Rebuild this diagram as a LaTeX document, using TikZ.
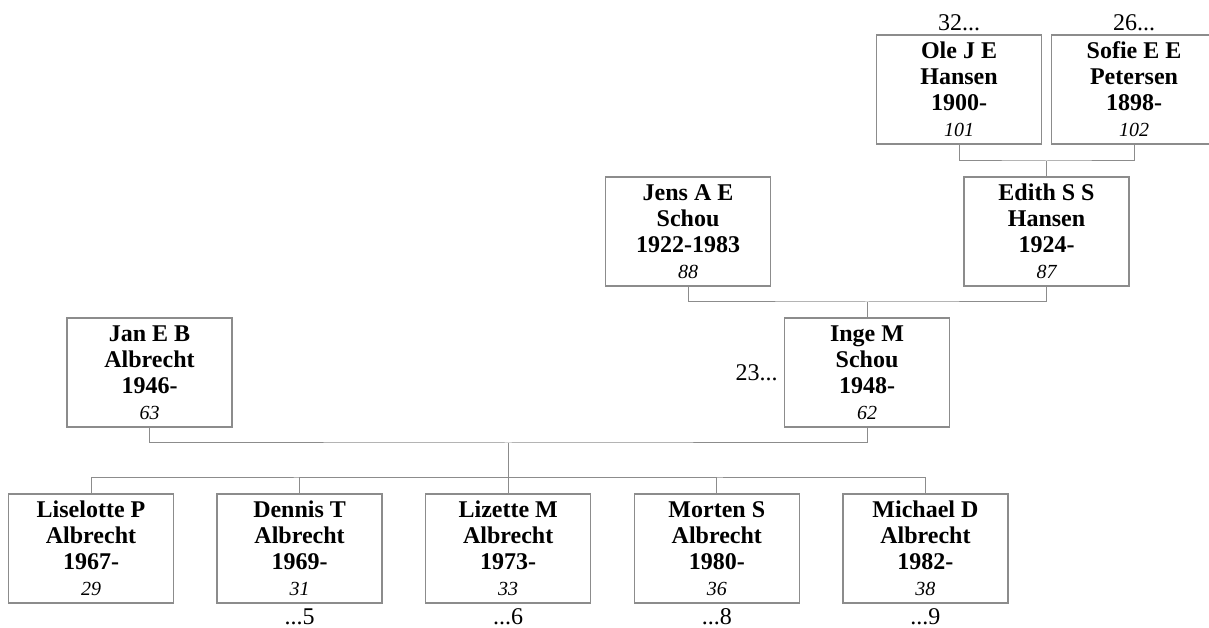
\documentclass[tikz,border=0pt]{standalone}
\usepackage{fontspec}
\setmainfont{Liberation Serif}
\usetikzlibrary{positioning}
\definecolor{linegray}{RGB}{140,140,140}
\newcommand{\refno}[1]{{\fontsize{20}{26}\selectfont\mdseries\itshape #1}}

\begin{document}
\begin{tikzpicture}[x=1pt,y=1pt,
        person/.style={draw=linegray,line width=1.3pt,fill=white,minimum width=165pt,minimum height=109pt,
                       inner sep=0pt,align=center,font=\fontsize{24}{26}\selectfont\bfseries},
        link/.style={draw=linegray,line width=1pt},
        more/.style={inner sep=0pt,font=\fontsize{24}{26}\selectfont}]

            \useasboundingbox (0,0) rectangle (1209,628);
            \clip (0,0) rectangle (1209,628);
            %\draw [help lines,step=50] (0,0) grid (1209,628);

            \path   (959,538.5)    node (ole)       [person] {Ole J E\\Hansen\\1900-\\\refno{101}}
                    (1134,538.5)   node (sofie)     [person] {Sofie E E\\Petersen\\1898-\\\refno{102}}
                    (688,396.5)    node (jens)      [person] {Jens A E\\Schou\\1922-1983\\\refno{88}}
                    (1046.5,396.5) node (edith)     [person] {Edith S S\\Hansen\\1924-\\\refno{87}}
                    (149.5,255.5)  node (jan)       [person] {Jan E B\\Albrecht\\1946-\\\refno{63}}
                    (867,255.5)    node (inge)      [person] {Inge M\\Schou\\1948-\\\refno{62}}
                    (91,79.5)      node (liselotte) [person] {Liselotte P\\Albrecht\\1967-\\\refno{29}}
                    (299.6,79.5)   node (dennis)    [person] {Dennis T\\Albrecht\\1969-\\\refno{31}}
                    (508.2,79.5)   node (lizette)   [person] {Lizette M\\Albrecht\\1973-\\\refno{33}}
                    (716.8,79.5)   node (morten)    [person] {Morten S\\Albrecht\\1980-\\\refno{36}}
                    (925.4,79.5)   node (michael)   [person] {Michael D\\Albrecht\\1982-\\\refno{38}};

            % more generations
            \node (up32)   [more, above=3pt of ole]   {32...};
            \node (up26)   [more, above=3pt of sofie] {26...};
            \node (up23)   [more, left=6pt of inge]   {23...};
            \node (down5)  [more, below=4.5pt of dennis]  {...5};
            \node (down6)  [more, below=4.5pt of lizette] {...6};
            \node (down8)  [more, below=4.5pt of morten]  {...8};
            \node (down9)  [more, below=4.5pt of michael] {...9};

            \coordinate (olesofie)  at (1046.5,467);
            \coordinate (jensedith) at (867,326);
            \coordinate (janinge)   at (508.2,185);
            \coordinate (kids)      at (508.2,150);

            \draw[link] (ole.south) |- (olesofie) -| (sofie.south);
            \draw[link] (olesofie) -- (edith.north);
            \draw[link] (jens.south) |- (jensedith) -| (edith.south);
            \draw[link] (jensedith) -- (inge.north);
            \draw[link] (jan.south) |- (janinge) -| (inge.south);
            \draw[link] (janinge) -- (kids);
            \draw[link] (liselotte.north) |- (kids) -| (michael.north);
            \foreach \kid in {dennis,lizette,morten}
                \draw[link] (\kid.north) |- (kids);

        \end{tikzpicture}
\end{document}
